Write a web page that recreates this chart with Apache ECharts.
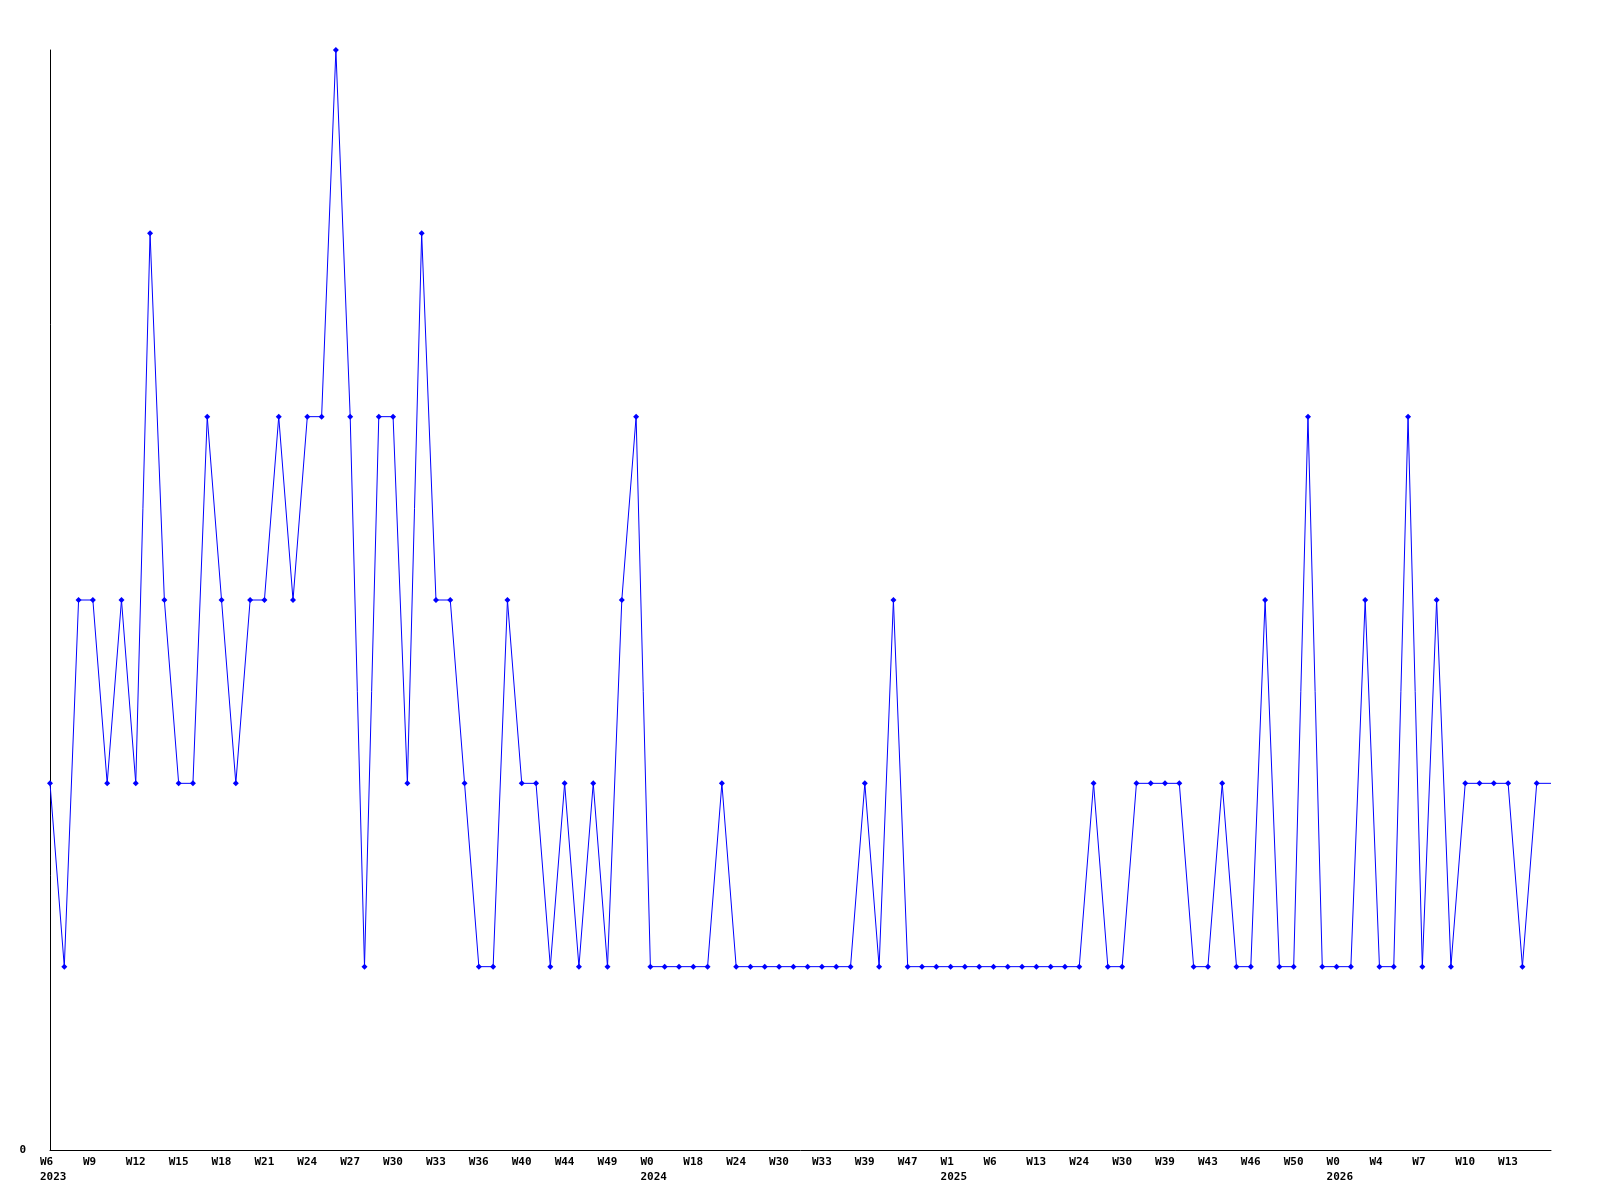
<!DOCTYPE html>
<html>
<head>
<meta charset="utf-8">
<script src="https://cdn.jsdelivr.net/npm/echarts@6/dist/echarts.min.js"></script>
<style>
  html, body { margin: 0; padding: 0; background: #fff; }
  #chart { width: 1600px; height: 1200px; }
</style>
</head>
<body>
<div id="chart"></div>
<script>
// week labels per point (last slot is the open end of the line, no label)
var weeks = [
  'W6','W7','W8','W9','W10','W11','W12','W13','W14','W15',
  'W16','W17','W18','W19','W20','W21','W22','W23','W24','W25',
  'W26','W27','W28','W29','W30','W31','W32','W33','W34','W35',
  'W36','W37','W39','W40','W41','W43','W44','W46','W48','W49',
  'W50','W51','W0','W5','W12','W18','W20','W22','W24','W26',
  'W28','W30','W31','W32','W33','W35','W37','W39','W42','W45',
  'W47','W50','W52','W1','W3','W5','W6','W9','W11','W13',
  'W17','W21','W24','W26','W28','W30','W33','W36','W39','W41',
  'W42','W43','W44','W45','W46','W47','W49','W50','W51','W52',
  'W0','W2','W3','W4','W5','W6','W7','W8','W9','W10',
  'W11','W12','W13','W14','W15',''
];

// where a new year starts on the axis
var yearNames = ['2023', '2024', '2025', '2026'];
var yearStart = [0, 42, 63, 90];

var counts = [
  2,1,3,3,2,3,2,5,3,2,
  2,4,3,2,3,3,4,3,4,4,
  6,4,1,4,4,2,5,3,3,2,
  1,1,3,2,2,1,2,1,2,1,
  3,4,1,1,1,1,1,2,1,1,
  1,1,1,1,1,1,1,2,1,3,
  1,1,1,1,1,1,1,1,1,1,
  1,1,1,2,1,1,2,2,2,2,
  1,1,2,1,1,3,1,1,4,1,
  1,1,3,1,1,4,1,3,1,2,
  2,2,2,1,2,2
];

var chart = echarts.init(document.getElementById('chart'));

var labelFont = {
  fontFamily: 'DejaVu Sans Mono',
  fontSize: 11,
  fontWeight: 'bold',
  color: '#000'
};

var seriesData = counts.map(function (v, i) {
  // the line runs on to the axis end without a marker
  if (i === counts.length - 1) return { value: v, symbol: 'none' };
  return v;
});

chart.setOption({
  animation: false,
  backgroundColor: '#fff',
  grid: { left: 50, right: 49, top: 50, bottom: 50 },
  xAxis: {
    type: 'category',
    data: weeks,
    boundaryGap: false,
    axisLine: { lineStyle: { color: '#000', width: 1 } },
    axisTick: { show: false },
    splitLine: { show: false },
    axisLabel: {
      interval: 2,
      margin: 5,
      align: 'center',
      width: 20,
      overflow: 'none',
      formatter: function (value, index) {
        var k = yearStart.indexOf(index);
        if (k >= 0) return '{w|' + value + '}\n{w|' + yearNames[k] + '}';
        return '{w|' + value + '}';
      },
      rich: {
        w: Object.assign({ align: 'left', lineHeight: 15 }, labelFont)
      }
    }
  },
  yAxis: {
    type: 'value',
    min: 0,
    max: 6,
    interval: 6,
    axisLine: { show: true, lineStyle: { color: '#000', width: 1 } },
    axisTick: { show: false },
    splitLine: { show: false },
    axisLabel: Object.assign({ margin: 24, showMaxLabel: false }, labelFont)
  },
  series: [{
    type: 'line',
    data: seriesData,
    symbol: 'diamond',
    symbolSize: 6,
    showAllSymbol: true,
    lineStyle: { color: '#0000ff', width: 1 },
    itemStyle: { color: '#0000ff' }
  }]
});
</script>
</body>
</html>
